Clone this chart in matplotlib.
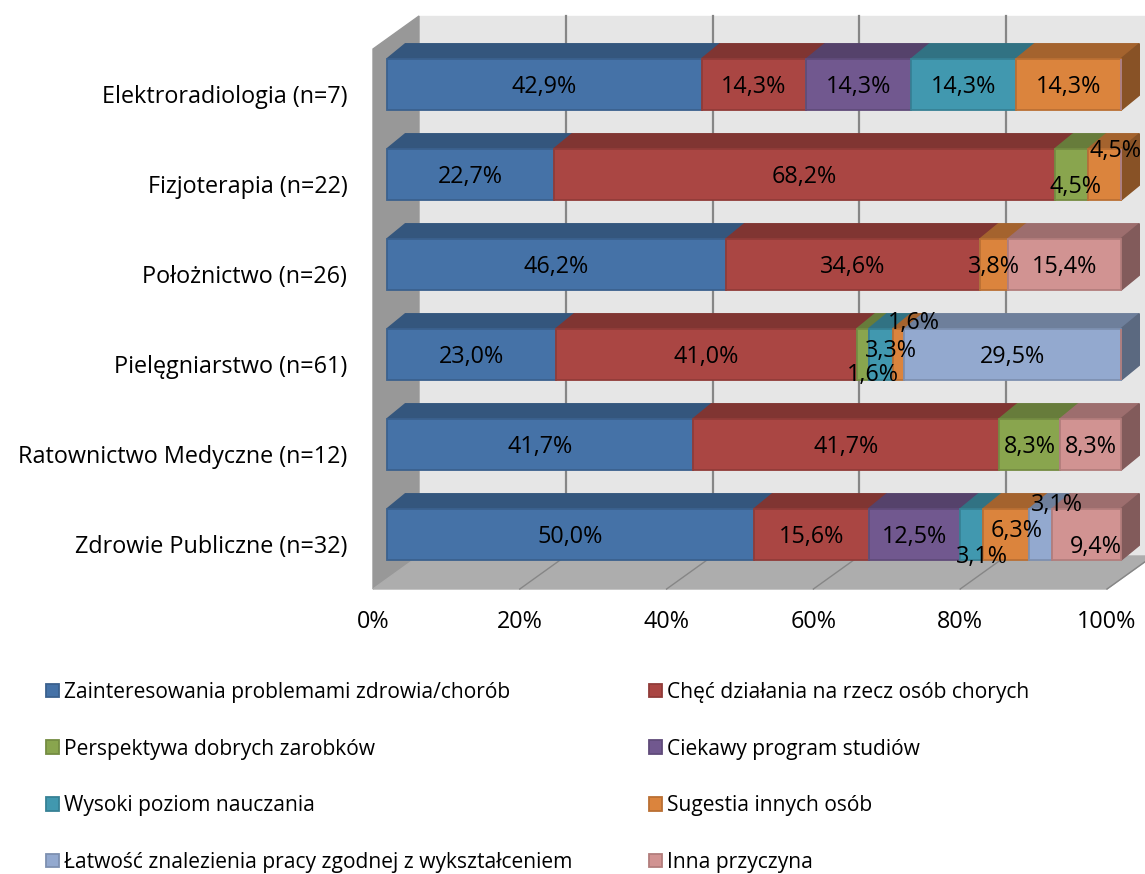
import matplotlib
matplotlib.use('Agg')
import matplotlib.pyplot as plt
from matplotlib.patches import Polygon
from matplotlib.transforms import Affine2D, IdentityTransform
import numpy as np

plt.rcParams['font.family'] = ['Open Sans', 'DejaVu Sans']

categories = ['Elektroradiologia (n=7)', 'Fizjoterapia (n=22)', 'Położnictwo (n=26)',
              'Pielęgniarstwo (n=61)', 'Ratownictwo Medyczne (n=12)', 'Zdrowie Publiczne (n=32)']

zainteresowania = [42.9, 22.7, 46.2, 23.0, 41.7, 50.0]
chec_dzialania = [14.3, 68.2, 34.6, 41.0, 41.7, 15.6]
zarobki = [0, 4.5, 0, 1.6, 8.3, 0]
program = [14.3, 0, 0, 0, 0, 12.5]
poziom = [14.3, 0, 0, 3.3, 0, 3.1]
sugestia = [14.3, 4.5, 3.8, 1.6, 0, 6.3]
latwosc = [0, 0, 0, 29.5, 0, 3.1]
inna = [0, 0, 15.4, 0, 8.3, 9.4]

series = [zainteresowania, chec_dzialania, zarobki, program, poziom, sugestia, latwosc, inna]
series_names = ['Zainteresowania problemami zdrowia/chorób', 'Chęć działania na rzecz osób chorych',
                'Perspektywa dobrych zarobków', 'Ciekawy program studiów',
                'Wysoki poziom nauczania', 'Sugestia innych osób',
                'Łatwość znalezienia pracy zgodnej z wykształceniem', 'Inna przyczyna']
colors = ['#4572A7', '#AA4643', '#89A54E', '#71588F', '#4198AF', '#DB843D', '#93A9CF', '#D19392']

# labels that were dragged off their segment in the original, (row, series): (dx, dy) px
label_nudge = {(1, 2): (4, 10), (1, 5): (11, -25), (3, 2): (10, 19), (3, 4): (10, -5),
               (3, 5): (15, -33), (5, 4): (10, 21), (5, 5): (10, -6), (5, 6): (16, -31),
               (5, 7): (9, 10)}

W, H = 1145, 874
FS = 16.8
LEG_FS = 15.1


def shade(col, f):
    rgb = np.array(matplotlib.colors.to_rgb(col))
    return tuple(rgb * f)


fig = plt.figure(figsize=(W / 100, H / 100), dpi=100, facecolor='white')
ax = fig.add_axes([373 / W, 1 - 589 / H, 734 / W, 540 / H])
ax.set_xlim(0, 100)
ax.set_ylim(5.5, -0.5)
ax.patch.set_visible(False)
for s in ax.spines.values():
    s.set_visible(False)
ax.set_xticks([0, 20, 40, 60, 80, 100])
ax.set_xticklabels(['0%', '20%', '40%', '60%', '80%', '100%'], fontsize=FS)
ax.set_yticks(range(len(categories)))
ax.set_yticklabels(categories, fontsize=FS)
ax.tick_params(axis='x', length=0, pad=15)
ax.tick_params(axis='y', length=0, pad=18.5)


def disp(x, y):
    return ax.transData.transform((x, y))


def face(points, fc, ec=None, z=1, lw=1.0):
    p = Polygon(points, closed=True, facecolor=fc, edgecolor=ec if ec else fc, lw=lw,
                transform=IdentityTransform(), zorder=z, clip_on=False)
    ax.add_patch(p)


# walls and floor, depth of the box in px
bl = disp(0, 5.5)
br = disp(100, 5.5)
tl = disp(0, -0.5)
tr = disp(100, -0.5)
depth = np.array([46, 33])
face([bl + depth, br + depth, tr + depth, tl + depth], '#E6E6E6', z=0.1)
face([bl, bl + depth, tl + depth, tl], '#989898', z=0.2)
face([bl, br, br + depth, bl + depth], '#ADADAD', z=0.2)
for t in ax.get_xticks():
    if t == 0:
        continue
    f = disp(t, 5.5)
    b = disp(t, -0.5) + depth
    ax.plot([f[0] + depth[0], b[0]], [f[1] + depth[1], b[1]], color='#868686', lw=1.6,
            transform=IdentityTransform(), zorder=0.3, clip_on=False)
    ax.plot([f[0], f[0] + depth[0]], [f[1], f[1] + depth[1]], color='#868686', lw=1.0,
            transform=IdentityTransform(), zorder=0.3, clip_on=False)

# the bars sit a little inside the box
bar_shift = Affine2D().translate(14, 9.5)
bar_h = 0.572
top = np.array([18.3, 15])
data = np.array(series, dtype=float)
data = data / data.sum(axis=0) * 100
lefts = np.zeros(len(categories))
handles = []
for k, vals in enumerate(data):
    z = np.arange(len(categories)) + 2
    for i, v in enumerate(vals):
        b = ax.barh(i, v, left=lefts[i], height=bar_h, color=colors[k],
                    edgecolor=shade(colors[k], 0.85), lw=1.3,
                    transform=ax.transData + bar_shift, zorder=z[i] + 0.2, clip_on=False)
        if i == 0:
            handles.append(b)
        if v > 0:
            x0, x1 = lefts[i], lefts[i] + v
            p0 = bar_shift.transform(disp(x0, i - bar_h / 2))
            p1 = bar_shift.transform(disp(x1, i - bar_h / 2))
            face([p0, p1, p1 + top, p0 + top], shade(colors[k], 0.75), z=z[i])
            if abs(x1 - 100) < 0.01:
                p2 = bar_shift.transform(disp(x1, i + bar_h / 2))
                face([p1, p2, p2 + top, p1 + top], shade(colors[k], 0.62), z=z[i] + 0.1)
            dx, dy = label_nudge.get((i, k), (0, 0))
            c = bar_shift.transform(disp((x0 + x1) / 2, i)) + np.array([dx, -dy - 2])
            ax.text(c[0], c[1], f'{series[k][i]:.1f}%'.replace('.', ','), ha='center', va='center',
                    fontsize=FS, color='black', transform=IdentityTransform(), zorder=50,
                    clip_on=False)
    lefts += vals

ax.set_xlim(0, 100)
ax.set_ylim(5.5, -0.5)

order = [0, 2, 4, 6, 1, 3, 5, 7]
fs_px = LEG_FS * 100 / 72
leg = fig.legend([handles[i] for i in order], [series_names[i] for i in order], ncol=2,
                 loc='upper left', bbox_to_anchor=(46 / W, 1 - 682 / H),
                 bbox_transform=fig.transFigure, frameon=False, fontsize=LEG_FS, borderpad=0,
                 borderaxespad=0, handlelength=13 / fs_px, handleheight=13 / fs_px,
                 handletextpad=5 / fs_px, labelspacing=1.7, columnspacing=3.67)

fig.savefig('out.png', dpi=100, facecolor='white')
